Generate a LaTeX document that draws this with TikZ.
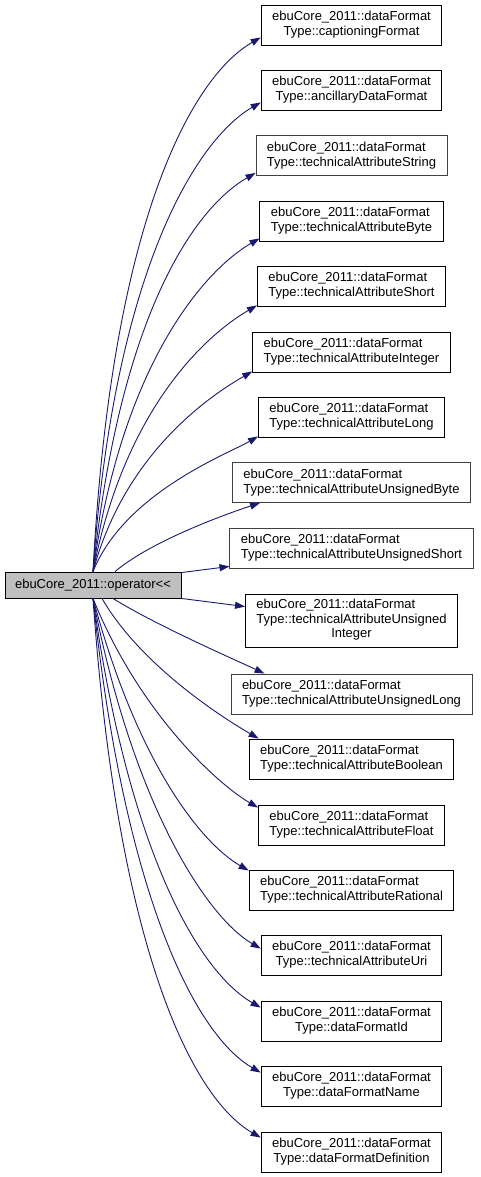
\documentclass[tikz,border=0pt]{standalone}
\usepackage{fontspec}
\setmainfont{Liberation Sans}
\usepackage{tikz}
\usetikzlibrary{arrows.meta}
\definecolor{edgecol}{HTML}{191970}
\definecolor{opfill}{HTML}{BFBFBF}
\definecolor{greyb}{HTML}{404040}
\newcommand{\dfline}{ebuCore\_2011::dataFormat}

\begin{document}
\begin{tikzpicture}[x=1pt,y=1pt,font=\fontsize{13}{15}\selectfont,
  member/.style={draw,line width=0.9pt,fill=white,inner xsep=11pt,inner ysep=2pt,
                 minimum height=40pt,align=center},
  lmember/.style={member,align=left},
  dimb/.style={draw=greyb},
  func/.style={member,fill=opfill,inner xsep=4pt,minimum height=26pt,minimum width=176pt},
  call/.style={edgecol,line width=0.9pt,-{Triangle[length=10pt,width=7pt]}},
]
\useasboundingbox (0,0) rectangle (480,-1177);

\node[func] (op) at (93,-585) {ebuCore\_2011::operator<{}<};

% called members, one per row
\node[member]       (t1)  at (351.5,-25)    {\dfline\\Type::captioningFormat};
\node[member]       (t2)  at (351.5,-90)    {\dfline\\Type::ancillaryDataFormat};
\node[lmember,dimb] (t3)  at (351.5,-155.5) {\dfline\\Type::technicalAttributeString};
\node[lmember]      (t4)  at (351.5,-221)   {\dfline\\Type::technicalAttributeByte};
\node[lmember]      (t5)  at (351.5,-286)   {\dfline\\Type::technicalAttributeShort};
\node[lmember]      (t6)  at (351.5,-352)   {\dfline\\Type::technicalAttributeInteger};
\node[lmember]      (t7)  at (351.5,-417)   {\dfline\\Type::technicalAttributeLong};
\node[lmember,dimb] (t8)  at (351.5,-482.5) {\dfline\\Type::technicalAttributeUnsignedByte};
\node[lmember,dimb] (t9)  at (351.5,-548)   {\dfline\\Type::technicalAttributeUnsignedShort};
\node[member,minimum height=53pt] (t10) at (351.5,-620.5)
  {\def\arraystretch{0.97}\begin{tabular}{@{}l@{}}\dfline\\Type::technicalAttributeUnsigned\\
   \multicolumn{1}{@{}c@{}}{Integer}\end{tabular}};
\node[lmember,dimb] (t11) at (351.5,-694)   {\dfline\\Type::technicalAttributeUnsignedLong};
\node[lmember]      (t12) at (351.5,-759)   {\dfline\\Type::technicalAttributeBoolean};
\node[lmember]      (t13) at (351.5,-825)   {\dfline\\Type::technicalAttributeFloat};
\node[lmember]      (t14) at (351.5,-890)   {\dfline\\Type::technicalAttributeRational};
\node[member]       (t15) at (351.5,-955)   {\dfline\\Type::technicalAttributeUri};
\node[member]       (t16) at (351.5,-1021)  {\dfline\\Type::dataFormatId};
\node[member]       (t17) at (351.5,-1086)  {\dfline\\Type::dataFormatName};
\node[member]       (t18) at (351.5,-1152)  {\dfline\\Type::dataFormatDefinition};

% calls going up
\draw[call] (op.north) to[out=87,in=210,out distance=350,in distance=80] ([yshift=8pt]t1.south west);
\draw[call] (op.north) to[out=86,in=210,out distance=300,in distance=75] ([yshift=8pt]t2.south west);
\draw[call] (op.north) to[out=84,in=210,out distance=260,in distance=70] ([yshift=3pt]t3.south west);
\draw[call] (op.north) to[out=82,in=210,out distance=215,in distance=60] ([yshift=3pt]t4.south west);
\draw[call] (op.north) to[out=79,in=210,out distance=170,in distance=55] ([yshift=1pt]t5.south west);
\draw[call] (op.north) to[out=75,in=210,out distance=125,in distance=45] ([yshift=1pt]t6.south west);
\draw[call] (op.north) to[out=68,in=210,out distance=85,in distance=35] ([yshift=1pt]t7.south west);
\draw[call] ([xshift=22pt]op.north) to[out=40,in=198,out distance=50,in distance=30] ([xshift=28pt]t8.south west);
% calls to the side
\draw[call] ([yshift=-1pt]op.north east) -- ([yshift=2pt]t9.south west);
\draw[call] (op.south east) -- ([yshift=-13pt]t10.north west);
% calls going down
\draw[call] ([xshift=20pt]op.south) to[out=-32,in=155,out distance=50,in distance=30] ([xshift=34pt]t11.north west);
\draw[call] ([xshift=9pt]op.south) to[out=-60,in=150,out distance=80,in distance=35] ([xshift=10pt]t12.north west);
\draw[call] (op.south) to[out=-68,in=150,out distance=125,in distance=45] ([yshift=-3pt]t13.north west);
\draw[call] (op.south) to[out=-75,in=150,out distance=170,in distance=55] ([yshift=-1pt]t14.north west);
\draw[call] (op.south) to[out=-79,in=150,out distance=215,in distance=60] ([yshift=-14pt]t15.north west);
\draw[call] (op.south) to[out=-82,in=150,out distance=260,in distance=70] ([yshift=-7pt]t16.north west);
\draw[call] (op.south) to[out=-84,in=150,out distance=300,in distance=75] ([yshift=-7pt]t17.north west);
\draw[call] (op.south) to[out=-86,in=150,out distance=350,in distance=80] ([yshift=-6pt]t18.north west);
\end{tikzpicture}
\end{document}
